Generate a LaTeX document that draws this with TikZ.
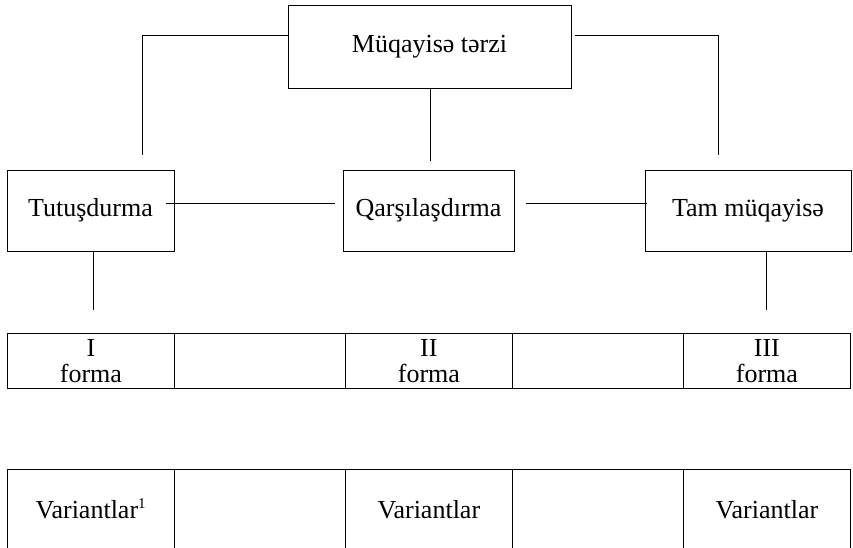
\documentclass[tikz,border=0pt]{standalone}
\usepackage{fontspec}
\setmainfont{Liberation Serif}
\begin{document}
\begin{tikzpicture}[x=1pt, y=-1pt, line width=0.8pt,
    font=\fontsize{26}{26}\selectfont,
    box/.style={draw, inner sep=0pt, minimum height=81pt},
    cell/.style={draw, inner sep=0pt, anchor=north west, align=center}]
  \clip (0,0) rectangle (853,547);
  \node[box, minimum width=283pt, minimum height=83pt] (top) at (429.5,46.5) {Müqayisə tərzi};
  \node[box, minimum width=167pt] (tut) at (90.5,210.5) {Tutuşdurma};
  \node[box, minimum width=171pt] (qar) at (428.5,210.5) {Qarşılaşdırma};
  \node[box, minimum width=206pt] (tam) at (748,210.5) {Tam müqayisə};
  \coordinate (lfoot) at (142,155);
  \coordinate (mfoot) at (430,161);
  \coordinate (rfoot) at (718,155);
  \coordinate (tdown) at (93,310);
  \coordinate (mdown) at (766,310);
  \draw ([yshift=11.5pt]top.west) -| (lfoot);
  \draw ([shift={(4pt,11.5pt)}]top.east) -| (rfoot);
  \draw (top.south -| mfoot) -- (mfoot);
  \draw ([shift={(-8pt,7.5pt)}]tut.east) -- ([shift={(-8pt,7.5pt)}]qar.west);
  \draw ([shift={(12pt,7.5pt)}]qar.east) -- ([shift={(2pt,7.5pt)}]tam.west);
  \draw (tut.south -| tdown) -- (tdown);
  \draw (tam.south -| mdown) -- (mdown);
  \foreach \x/\w/\t [count=\i] in {7/167/{I\\forma}, 174/171/{}, 345/167/{II\\forma}, 512/171/{}, 683/167/{III\\forma}}
    \node[cell, minimum width=\w pt, minimum height=55pt] (f\i) at (\x,333) {\t};
  \foreach \x/\w/\t [count=\i] in {7/167/{Variantlar\textsuperscript{\fontsize{15}{15}\selectfont 1}}, 174/171/{}, 345/167/{Variantlar}, 512/171/{}, 683/167/{Variantlar}} {
    \node[cell, minimum width=\w pt, minimum height=100pt] (v\i) at (\x,469) {};
    \node[anchor=base, inner sep=0pt] (vt\i) at ([yshift=-49pt]v\i.north) {\t};
  }
\end{tikzpicture}
\end{document}
